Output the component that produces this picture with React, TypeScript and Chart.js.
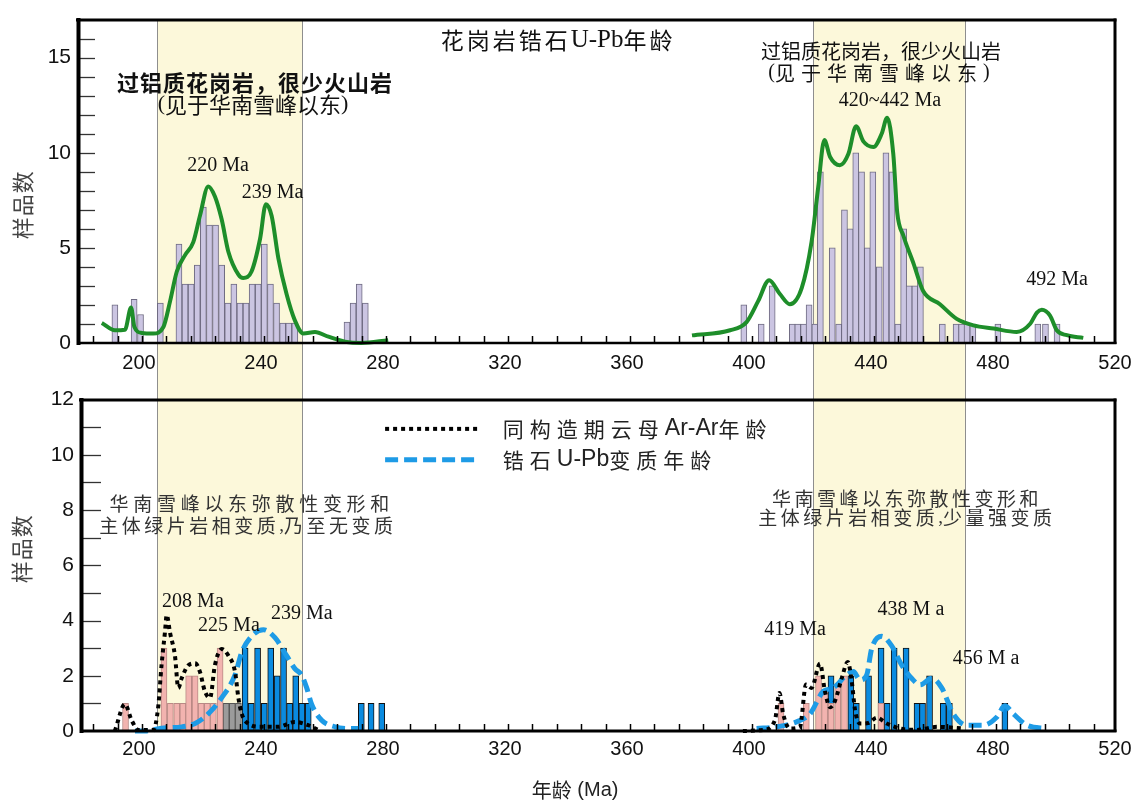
import React, { useEffect, useRef } from "react";
import { Chart, registerables } from "chart.js";

Chart.register(...registerables);

// ---------------- axes ----------------
const X_TICKS = [200, 240, 280, 320, 360, 400, 440, 480, 520];
const TOP_Y_TICKS = [0, 5, 10, 15];
const BOTTOM_Y_TICKS = [0, 2, 4, 6, 8, 10, 12];
const X_MINOR_START = 185;
const X_MINOR_STEP = 8;
const YELLOW_BANDS = [
  [206, 253.5],
  [421, 470.8],
];

// ---------------- top panel: granite zircon U-Pb ages ----------------
const TOP_BAR_AGES = [
  192.1, 198.4, 200.5, 207.0, 213.1, 215.1, 217.1, 219.1, 221.1, 223.1, 225.1, 227.1, 229.1,
  231.1, 233.1, 235.1, 237.1, 239.1, 241.1, 243.1, 245.1, 247.1, 249.1, 251.1, 268.2, 270.2,
  272.2, 274.2, 398.3, 404.0, 407.6, 414.2, 416.0, 417.9, 419.7, 421.6, 423.4, 427.3, 429.4,
  431.3, 433.2, 435.0, 436.9, 438.8, 440.6, 442.7, 444.9, 446.9, 448.8, 450.7, 452.5, 454.4,
  456.2, 463.4, 467.9, 469.7, 471.5, 473.4, 481.6, 494.7, 497.2, 501.0,
];
const TOP_BAR_COUNTS = [
  2, 2.3, 1.5, 2.1, 5.2, 3.1, 3.1, 4.1, 7.15, 6.2, 6.2, 4.1, 2.1,
  3.1, 2.1, 2.1, 3.1, 3.1, 5.2, 3.1, 2.1, 1.05, 1.05, 1.05, 1.1, 2.1,
  3.1, 2.1, 2, 1, 3, 1, 1, 1, 2, 1, 9, 5, 1,
  7, 6, 10, 9, 5, 9, 4, 10, 9, 1, 6, 3, 3,
  4, 1, 1, 1, 1, 1, 1, 1, 1, 1,
];
const TOP_KDE_A_AGES = [
  187.8, 192.1, 195.4, 197.4, 198.5, 200.9, 204.7, 208.0, 210.2, 212.4, 215.1, 217.8, 220.0,
  222.7, 224.9, 227.1, 229.3, 232.6, 234.2, 236.9, 239.7, 241.6, 243.5, 245.7, 248.4, 251.1,
  253.9, 257.7, 262.1, 267.5, 273.0, 281.7,
];
const TOP_KDE_A_VALUES = [
  1.05, 0.67, 0.7, 1.87, 0.84, 0.53, 0.5, 0.84, 2.2, 3.76, 4.62, 5.3, 6.7,
  8.23, 7.7, 6.5, 4.8, 3.6, 3.42, 3.76, 5.48, 7.3, 6.68, 4.45, 2.56, 1.19,
  0.5, 0.58, 0.33, 0.07, 0.0, 0.15,
];
const TOP_KDE_B_AGES = [
  381.3, 393.8, 399.2, 403.0, 406.6, 410.2, 413.4, 417.3, 420.5, 422.7, 424.7, 426.6, 429.8,
  432.6, 435.1, 437.5, 440.8, 443.5, 445.3, 447.3, 448.6, 450.6, 453.9, 457.1, 462.6, 468.1,
  473.6, 480.2, 487.8, 492.2, 494.4, 496.0, 498.7, 500.9, 504.2, 509.6,
];
const TOP_KDE_B_VALUES = [
  0.4, 0.67, 1.1, 2.2, 3.3, 2.56, 2.04, 2.9, 5.3, 8.2, 10.67, 9.78, 9.35,
  9.95, 11.4, 10.6, 10.3, 11.0, 11.84, 9.95, 6.86, 5.65, 4.2, 2.73, 2.04, 1.27,
  0.93, 0.76, 0.58, 1.01, 1.6, 1.75, 1.44, 0.67, 0.41, 0.27,
];

// ---------------- bottom panel: metamorphic ages ----------------
const BOT_PINK_AGES = [
  195.6, 208.2, 210.3, 212.4, 214.4, 216.3, 218.4, 220.4, 222.4, 224.4, 226.6,
  410.5, 418.8, 422.8, 424.8, 426.9, 429.1, 431.3, 443.3,
];
const BOT_PINK_COUNTS = [1, 3, 1, 1, 1, 2, 2, 1, 1, 1, 3, 1, 1, 2, 1.5, 1, 1.6, 2, 1];
const BOT_GRAY_AGES = [228.6, 230.6, 232.6];
const BOT_GRAY_COUNTS = [1, 1, 1];
const BOT_BLUE_AGES = [
  234.8, 236.8, 238.9, 241.1, 243.2, 245.3, 247.4, 249.4, 251.4, 253.4, 255.5, 272.9, 276.1,
  279.6, 426.9, 433.4, 435.2, 439.2, 443.3, 445.3, 447.6, 451.5, 455.1, 456.9, 459.2, 463.7,
  465.7, 483.9,
];
const BOT_BLUE_COUNTS = [
  3, 1, 3, 1, 3, 2, 3, 1, 2, 1, 1, 1, 1,
  1, 2, 2, 1, 2, 3, 1, 3, 3, 1, 1, 2, 1,
  1, 1,
];
const ARAR_A_AGES = [
  192.1, 195.4, 197.6, 199.8, 204.7, 206.3, 207.4, 208.5, 209.1, 210.2, 211.8, 212.9, 214.0,
  216.2, 218.4, 220.0, 221.6, 223.3, 224.9, 227.1, 229.3, 231.5, 232.6, 233.7, 235.8, 240.2,
  245.7, 251.1, 255.5, 258.8,
];
const ARAR_A_VALUES = [
  0, 0.97, 0.39, 0.04, 0.04, 0.86, 2.38, 3.55, 4.2, 3.55, 2.73, 1.56, 1.91,
  2.38, 2.45, 2.14, 1.44, 1.2, 2.38, 2.97, 2.73, 2.14, 1.2, 0.62, 0.27, 0.15,
  0.15, 0.33, 0.21, 0.04,
];
const ARAR_B_AGES = [
  398.0, 404.7, 408.5, 410.0, 411.2, 413.4, 416.7, 418.7, 420.5, 423.3, 424.9, 426.6, 428.2,
  430.4, 432.4, 433.7, 434.8, 436.4, 439.1, 441.9, 445.2, 449.5, 455.0, 461.7, 470.5,
];
const ARAR_B_VALUES = [
  0, 0.04, 0.39, 1.38, 0.62, 0.09, 0.15, 1.68, 1.56, 2.44, 1.44, 0.86, 1.09,
  1.91, 2.5, 1.79, 0.74, 0.27, 0.29, 0.48, 0.27, 0.09, 0.04, 0.15, 0.09,
];
const ZRC_A_AGES = [
  198.7, 202.0, 207.4, 214.0, 218.4, 222.7, 227.1, 231.5, 233.7, 236.9, 240.8, 244.6, 248.4,
  251.1, 253.3, 255.0, 256.6, 259.9, 264.3, 268.6, 271.9,
];
const ZRC_A_VALUES = [
  0, 0, 0.1, 0.15, 0.27, 0.62, 1.2, 2.03, 2.85, 3.43, 3.67, 3.38, 2.73,
  2.26, 2.03, 1.56, 0.97, 0.39, 0.15, 0.09, 0.09,
];
const ZRC_B_AGES = [
  402.5, 409.0, 415.6, 420.0, 424.4, 427.6, 432.0, 434.2, 436.4, 438.6, 440.2, 443.5, 446.8,
  450.1, 453.3, 456.1, 459.9, 463.2, 467.0, 471.4, 476.8, 481.2, 483.9, 486.7, 491.1, 497.6,
];
const ZRC_B_VALUES = [
  0.09, 0.15, 0.33, 0.62, 1.44, 1.56, 2.03, 2.15, 1.85, 2.03, 2.97, 3.43, 3.08,
  2.38, 1.91, 1.67, 1.91, 1.56, 0.62, 0.21, 0.21, 0.5, 0.91, 0.62, 0.21, 0.09,
];

// ---------------- fonts & notes ----------------
const SERIF = "'Liberation Serif', serif";
const CJK = "'Noto Sans CJK SC', sans-serif";
const SANS = "'Liberation Sans', sans-serif";

const TOP_NOTES = [
  { text: "花岗岩锆石U-Pb年龄", x: 337.4, y: 15.93, cjk: `23px ${CJK}`, latin: `25px ${SERIF}`, spacing: 3 },
  { text: "过铝质花岗岩，很少火山岩", x: 238.0, y: 13.66, cjk: `bold 22px ${CJK}`, latin: `bold 22px ${SERIF}`, spacing: 1 },
  { text: "(见于华南雪峰以东)", x: 237.4, y: 12.53, cjk: `22px ${CJK}`, latin: `22px ${SERIF}`, spacing: 0 },
  { text: "220 Ma", x: 225.9, y: 9.33, cjk: `20px ${CJK}`, latin: `20px ${SERIF}` },
  { text: "239 Ma", x: 243.8, y: 7.89, cjk: `20px ${CJK}`, latin: `20px ${SERIF}` },
  { text: "过铝质花岗岩，很少火山岩", x: 443.3, y: 15.31, cjk: `20px ${CJK}`, latin: `20px ${SERIF}` },
  { text: "(见于华南雪峰以东)", x: 442.6, y: 14.18, cjk: `20px ${CJK}`, latin: `20px ${SERIF}`, spacing: 6 },
  { text: "420~442 Ma", x: 446.2, y: 12.73, cjk: `20px ${CJK}`, latin: `20px ${SERIF}` },
  { text: "492 Ma", x: 501.0, y: 3.35, cjk: `20px ${CJK}`, latin: `20px ${SERIF}` },
];
const BOTTOM_NOTES = [
  { text: "华南雪峰以东弥散性变形和", x: 237.0, y: 8.23, cjk: `19px ${CJK}`, latin: `19px ${SERIF}`, spacing: 4.7, color: "#333" },
  { text: "主体绿片岩相变质,乃至无变质", x: 235.7, y: 7.42, cjk: `19px ${CJK}`, latin: `19px ${SERIF}`, spacing: 3.5, color: "#333" },
  { text: "华南雪峰以东弥散性变形和", x: 451.8, y: 8.41, cjk: `19px ${CJK}`, latin: `19px ${SERIF}`, spacing: 3.5, color: "#333" },
  { text: "主体绿片岩相变质,少量强变质", x: 451.8, y: 7.71, cjk: `19px ${CJK}`, latin: `19px ${SERIF}`, spacing: 3.5, color: "#333" },
  { text: "208 Ma", x: 217.7, y: 4.68, cjk: `20px ${CJK}`, latin: `20px ${SERIF}` },
  { text: "225 Ma", x: 229.5, y: 3.8, cjk: `20px ${CJK}`, latin: `20px ${SERIF}` },
  { text: "239 Ma", x: 253.4, y: 4.26, cjk: `20px ${CJK}`, latin: `20px ${SERIF}` },
  { text: "419 Ma", x: 415.1, y: 3.66, cjk: `20px ${CJK}`, latin: `20px ${SERIF}` },
  { text: "438 M a", x: 453.1, y: 4.4, cjk: `20px ${CJK}`, latin: `20px ${SERIF}` },
  { text: "456 M a", x: 477.7, y: 2.6, cjk: `20px ${CJK}`, latin: `20px ${SERIF}` },
  { text: "年龄 (Ma)", x: 343, y: -2.15, cjk: `20px ${CJK}`, latin: `20px ${SANS}`, color: "#222" },
];
const BOTTOM_LEGEND = [
  { dataset: "同构造期云母Ar-Ar年龄", y: 10.94 },
  { dataset: "锆石U-Pb变质年龄", y: 9.82 },
];
const LEGEND_LINE_FROM = 280.7;
const LEGEND_LINE_TO = 311.1;
const LEGEND_TEXT_AT = 319.3;

const pts = (xs: number[], ys: number[]) => xs.map((x, i) => ({ x, y: ys[i] }));

// draws text made of CJK and Latin runs, letter spacing applied to CJK runs only
function drawRuns(ctx: any, text: string, x: number, y: number, align: string, cjkFont: string, latinFont: string, spacing: number) {
  const runs = text.match(/[\u0000-\u02FF]+|[^\u0000-\u02FF]+/g) || [];
  const parts = runs.map((r) => {
    const latin = /^[\u0000-\u02FF]/.test(r);
    ctx.font = latin ? latinFont : cjkFont;
    ctx.letterSpacing = latin ? "0px" : spacing + "px";
    return { r, latin, w: ctx.measureText(r).width };
  });
  const total = parts.reduce((s, p) => s + p.w, 0);
  let cx = align === "center" ? x - total / 2 : x;
  ctx.textAlign = "left";
  ctx.textBaseline = "middle";
  for (const p of parts) {
    ctx.font = p.latin ? latinFont : cjkFont;
    ctx.letterSpacing = p.latin ? "0px" : spacing + "px";
    ctx.fillText(p.r, cx, y);
    cx += p.w;
  }
  ctx.letterSpacing = "0px";
}

function panelPlugin(cfg: any) {
  return {
    id: "panel_" + cfg.name,
    beforeDraw(chart: any) {
      const { ctx, chartArea, scales } = chart;
      const xs = scales.x;
      const y0 = cfg.bandsDown ? chartArea.top : 0;
      const y1 = cfg.bandsDown ? chart.height : chartArea.bottom;
      ctx.save();
      ctx.fillStyle = "#ffffff";
      ctx.fillRect(0, 0, chart.width, chart.height);
      for (const [a, b] of YELLOW_BANDS) {
        const xa = xs.getPixelForValue(a);
        const xb = xs.getPixelForValue(b);
        ctx.fillStyle = "#FCF8DA";
        ctx.fillRect(xa, y0, xb - xa, y1 - y0);
        ctx.strokeStyle = "#8e8e8e";
        ctx.lineWidth = 1;
        ctx.beginPath();
        ctx.moveTo(Math.round(xa) + 0.5, y0);
        ctx.lineTo(Math.round(xa) + 0.5, y1);
        ctx.moveTo(Math.round(xb) + 0.5, y0);
        ctx.lineTo(Math.round(xb) + 0.5, y1);
        ctx.stroke();
      }
      ctx.restore();
    },
    afterDraw(chart: any) {
      const { ctx, chartArea, scales } = chart;
      const xs = scales.x;
      const ys = scales.y;
      const { left, right, top, bottom } = chartArea;
      ctx.save();
      // inner y ticks
      ctx.strokeStyle = "#333";
      ctx.lineWidth = 1.3;
      for (let v = 1; v < ys.max; v++) {
        const py = Math.round(ys.getPixelForValue(v)) + 0.5;
        ctx.beginPath();
        ctx.moveTo(left, py);
        ctx.lineTo(left + cfg.yTickLen, py);
        ctx.stroke();
      }
      // minor x ticks
      ctx.strokeStyle = "#000";
      ctx.lineWidth = 1.5;
      for (let v = X_MINOR_START; v < xs.max; v += X_MINOR_STEP) {
        if (v <= xs.min) continue;
        const px = Math.round(xs.getPixelForValue(v)) + 0.5;
        ctx.beginPath();
        ctx.moveTo(px, bottom);
        ctx.lineTo(px, bottom - 7);
        ctx.stroke();
      }
      // frame
      ctx.strokeStyle = "#000";
      const f = cfg.frame;
      ctx.lineWidth = f.top;
      ctx.beginPath();
      ctx.moveTo(left - 2, top + 0.5);
      ctx.lineTo(right + 1.5, top + 0.5);
      ctx.stroke();
      ctx.lineWidth = f.right;
      ctx.beginPath();
      ctx.moveTo(right, top - 1);
      ctx.lineTo(right, bottom + 1);
      ctx.stroke();
      ctx.lineWidth = f.bottom;
      ctx.beginPath();
      ctx.moveTo(left, bottom);
      ctx.lineTo(right + 1.5, bottom);
      ctx.stroke();
      ctx.lineWidth = f.left;
      ctx.beginPath();
      ctx.moveTo(left + 0.5, top - 1.5);
      ctx.lineTo(left + 0.5, bottom + 2);
      ctx.stroke();

      // y title
      ctx.save();
      ctx.translate(left + cfg.yTitle.dx, ys.getPixelForValue(cfg.yTitle.value));
      ctx.rotate(-Math.PI / 2);
      ctx.font = `22px ${CJK}`;
      ctx.fillStyle = "#444";
      ctx.textAlign = "center";
      ctx.textBaseline = "middle";
      (ctx as any).letterSpacing = "1px";
      ctx.fillText("样品数", 0, 0);
      (ctx as any).letterSpacing = "0px";
      ctx.restore();

      // notes
      for (const n of cfg.notes) {
        ctx.fillStyle = n.color || "#111";
        drawRuns(ctx, n.text, xs.getPixelForValue(n.x), ys.getPixelForValue(n.y), "center", n.cjk, n.latin, n.spacing || 0);
      }

      // legend
      if (cfg.legend) {
        for (const item of cfg.legend) {
          const ds = chart.data.datasets.find((d: any) => d.label === item.dataset);
          if (!ds) continue;
          const py = ys.getPixelForValue(item.y);
          ctx.strokeStyle = ds.borderColor;
          ctx.lineWidth = ds.borderWidth;
          ctx.setLineDash(ds.borderDash || []);
          ctx.lineCap = "butt";
          ctx.beginPath();
          ctx.moveTo(xs.getPixelForValue(LEGEND_LINE_FROM), py);
          ctx.lineTo(xs.getPixelForValue(LEGEND_LINE_TO), py);
          ctx.stroke();
          ctx.setLineDash([]);
          ctx.fillStyle = "#222";
          drawRuns(ctx, item.dataset, xs.getPixelForValue(LEGEND_TEXT_AT), py, "left", `21px ${CJK}`, `23px ${SANS}`, 6);
        }
      }
      ctx.restore();
    },
  };
}

function xScale(min: number, height: number, pad: number) {
  return {
    type: "linear",
    min,
    max: 520,
    offset: false,
    grid: { display: false, drawTicks: false },
    border: { display: false },
    afterBuildTicks: (s: any) => {
      s.ticks = X_TICKS.map((v) => ({ value: v }));
    },
    afterFit: (s: any) => {
      s.height = height;
    },
    ticks: {
      autoSkip: false,
      maxRotation: 0,
      padding: pad,
      color: "#111",
      font: { family: "'Liberation Sans', sans-serif", size: 20 },
    },
  };
}

function yScale(max: number, ticks: number[], width: number) {
  return {
    min: 0,
    max,
    grid: { display: false, drawTicks: false },
    border: { display: false },
    afterBuildTicks: (s: any) => {
      s.ticks = ticks.map((v) => ({ value: v }));
    },
    afterFit: (s: any) => {
      s.width = width;
    },
    ticks: {
      padding: 7,
      color: "#111",
      font: { family: "'Liberation Sans', sans-serif", size: 21 },
    },
  };
}

const lineBase = {
  type: "line",
  pointRadius: 0,
  fill: false,
  cubicInterpolationMode: "monotone",
  clip: false,
};

function topConfig(): any {
  return {
    type: "bar",
    data: {
      datasets: [
        { ...lineBase, label: "KDE-1", data: pts(TOP_KDE_A_AGES, TOP_KDE_A_VALUES), borderColor: "#1E8E2A", borderWidth: 4, order: 0 },
        { ...lineBase, label: "KDE-2", data: pts(TOP_KDE_B_AGES, TOP_KDE_B_VALUES), borderColor: "#1E8E2A", borderWidth: 4, order: 0 },
        {
          type: "bar",
          label: "花岗岩",
          data: pts(TOP_BAR_AGES, TOP_BAR_COUNTS),
          backgroundColor: "#CBC5E2",
          borderColor: "#6F6B82",
          borderWidth: 1,
          barThickness: 6,
          grouped: false,
          order: 1,
        },
      ],
    },
    options: {
      responsive: false,
      animation: false,
      devicePixelRatio: 1,
      layout: { padding: { left: 0, top: 14, right: 26, bottom: 0 } },
      plugins: { legend: { display: false }, tooltip: { enabled: false } },
      scales: {
        x: xScale(180, 37, 8),
        y: yScale(17, TOP_Y_TICKS, 78),
      },
    },
    plugins: [
      panelPlugin({
        name: "top",
        bandsDown: true,
        yTickLen: 17,
        frame: { left: 4, top: 3, right: 3, bottom: 2.5 },
        yTitle: { value: 7.27, dx: -55 },
        notes: TOP_NOTES,
      }),
    ],
  };
}

function bottomConfig(): any {
  const barBase = { type: "bar", borderWidth: 1, barThickness: 6, grouped: false };
  return {
    type: "bar",
    data: {
      datasets: [
        { ...lineBase, label: "同构造期云母Ar-Ar年龄", data: pts(ARAR_A_AGES, ARAR_A_VALUES), borderColor: "#000", borderWidth: 4, borderDash: [4, 4], order: 0 },
        { ...lineBase, label: "Ar-Ar-2", data: pts(ARAR_B_AGES, ARAR_B_VALUES), borderColor: "#000", borderWidth: 4, borderDash: [4, 4], order: 0 },
        { ...lineBase, label: "锆石U-Pb变质年龄", data: pts(ZRC_A_AGES, ZRC_A_VALUES), borderColor: "#1E9BE6", borderWidth: 5, borderDash: [13, 6], order: 1 },
        { ...lineBase, label: "U-Pb-2", data: pts(ZRC_B_AGES, ZRC_B_VALUES), borderColor: "#1E9BE6", borderWidth: 5, borderDash: [13, 6], order: 1 },
        { ...barBase, label: "pink", data: pts(BOT_PINK_AGES, BOT_PINK_COUNTS), backgroundColor: "#F2B3AF", borderColor: "#B98985", order: 2 },
        { ...barBase, label: "gray", data: pts(BOT_GRAY_AGES, BOT_GRAY_COUNTS), backgroundColor: "#9B9B9B", borderColor: "#555", order: 3 },
        { ...barBase, label: "blue", data: pts(BOT_BLUE_AGES, BOT_BLUE_COUNTS), backgroundColor: "#0A8BE0", borderColor: "#111", order: 4 },
      ],
    },
    options: {
      responsive: false,
      animation: false,
      devicePixelRatio: 1,
      layout: { padding: { left: 0, top: 10, right: 26, bottom: 0 } },
      plugins: { legend: { display: false }, tooltip: { enabled: false } },
      scales: {
        x: xScale(181, 71, 6),
        y: yScale(12, BOTTOM_Y_TICKS, 81),
      },
    },
    plugins: [
      panelPlugin({
        name: "bottom",
        bandsDown: false,
        yTickLen: 20,
        frame: { left: 4, top: 3, right: 3, bottom: 3 },
        yTitle: { value: 6.6, dx: -59 },
        notes: BOTTOM_NOTES,
        legend: BOTTOM_LEGEND,
      }),
    ],
  };
}

export default function App() {
  const topRef = useRef<HTMLCanvasElement>(null);
  const botRef = useRef<HTMLCanvasElement>(null);
  useEffect(() => {
    const c1 = new Chart(topRef.current as HTMLCanvasElement, topConfig());
    const c2 = new Chart(botRef.current as HTMLCanvasElement, bottomConfig());
    return () => {
      c1.destroy();
      c2.destroy();
    };
  }, []);
  return (
    <div style={{ position: "absolute", left: 0, top: 0, width: 1141, height: 802, background: "#fff" }}>
      <canvas ref={topRef} width={1141} height={380} style={{ position: "absolute", left: 0, top: 0 }} />
      <canvas ref={botRef} width={1141} height={422} style={{ position: "absolute", left: 0, top: 380 }} />
    </div>
  );
}
